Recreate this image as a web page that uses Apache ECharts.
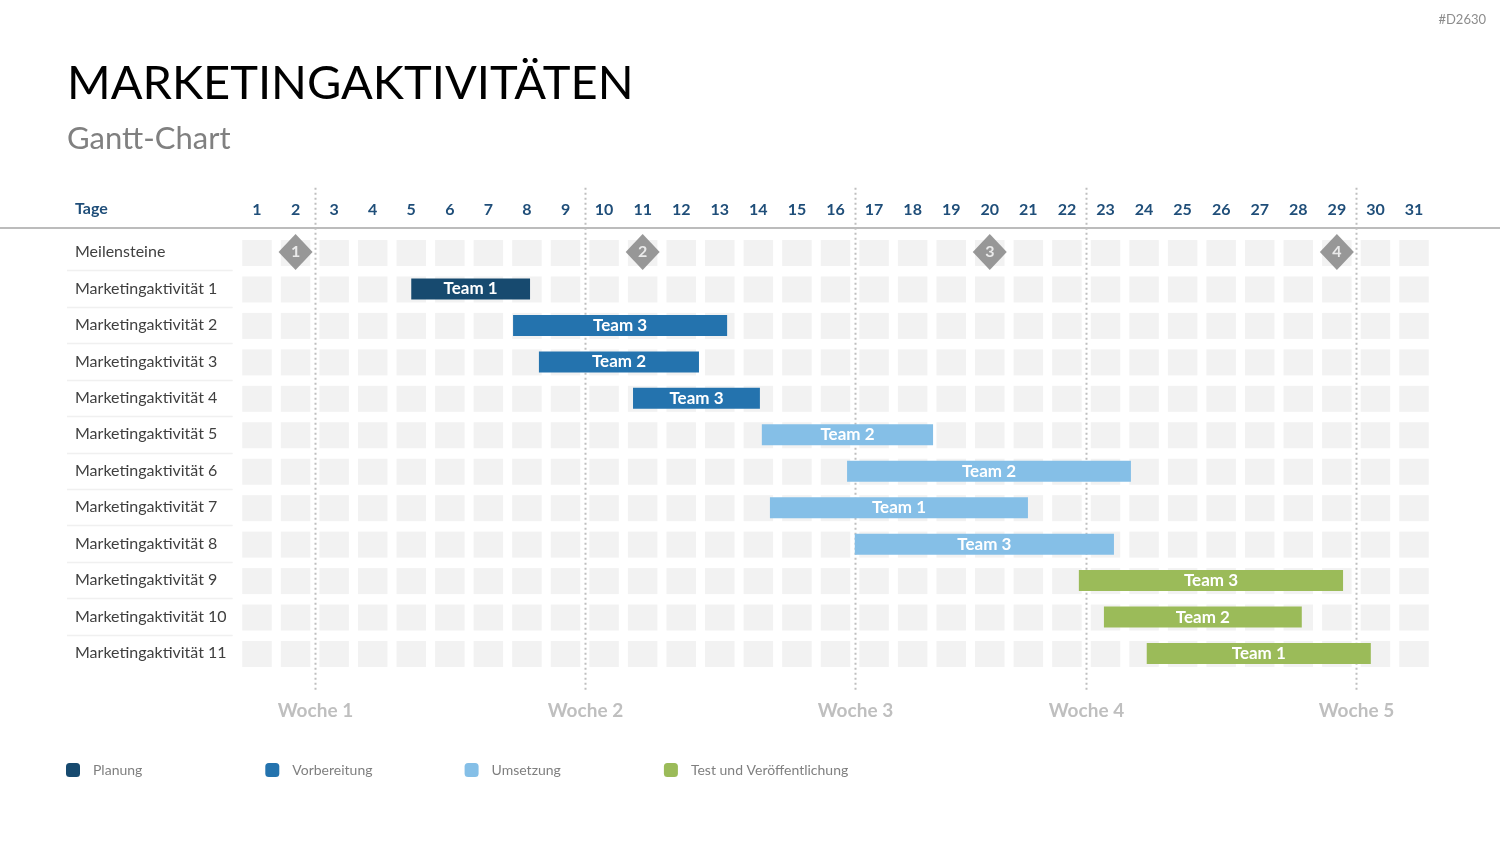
<!DOCTYPE html>
<html>
<head>
<meta charset="utf-8">
<title>Marketingaktivitäten</title>
<script src="https://cdn.jsdelivr.net/npm/echarts@6/dist/echarts.min.js"></script>
<style>
  html, body { margin: 0; padding: 0; background: #fff; }
  #main { width: 1500px; height: 844px; }
</style>
</head>
<body>
<div id="main"></div>
<script>
// Tage und Zeilen
var days = [];
for (var d = 1; d <= 31; d++) days.push(d);
var rowLabels = ['Meilensteine', 'Marketingaktivität 1', 'Marketingaktivität 2', 'Marketingaktivität 3',
  'Marketingaktivität 4', 'Marketingaktivität 5', 'Marketingaktivität 6', 'Marketingaktivität 7',
  'Marketingaktivität 8', 'Marketingaktivität 9', 'Marketingaktivität 10', 'Marketingaktivität 11'];

// Balken (Start/Ende in Tagen, Zeile 1..11)
var barRow   = [1, 2, 3, 4, 5, 6, 7, 8, 9, 10, 11];
var barStart = [5.0, 7.64, 8.31, 10.75, 14.09, 16.3, 14.3, 16.5, 22.31, 22.96, 24.07];
var barEnd   = [8.08, 13.19, 12.46, 14.04, 18.53, 23.66, 20.99, 23.22, 29.16, 28.09, 29.88];
var barTeam  = ['Team 1', 'Team 3', 'Team 2', 'Team 3', 'Team 2', 'Team 2', 'Team 1', 'Team 3', 'Team 3', 'Team 2', 'Team 1'];
var barPhase = [0, 1, 1, 1, 2, 2, 2, 2, 3, 3, 3];

var phases = ['Planung', 'Vorbereitung', 'Umsetzung', 'Test und Veröffentlichung'];
var phaseColors = ['#174A6F', '#2473AE', '#85BFE7', '#9BBB59'];

// Meilensteine
var milestoneDays = [2, 11, 20, 29];
var milestoneLabels = ['1', '2', '3', '4'];

// Wochengrenzen
var weekBounds = [2.5, 9.5, 16.5, 22.5, 29.5];
var weekLabels = ['Woche 1', 'Woche 2', 'Woche 3', 'Woche 4', 'Woche 5'];

var FONT = 'Lato, "Open Sans", sans-serif';

var cellData = [];
for (var r = 0; r < rowLabels.length; r++) {
  for (var i = 0; i < days.length; i++) cellData.push([days[i], r]);
}
var sepData = [];
for (var r2 = 1; r2 < rowLabels.length; r2++) sepData.push([1, r2]);

var weekData = weekBounds.map(function (w, i) { return [w, 0, weekLabels[i]]; });

var series = [];

// graue Zellen
series.push({
  type: 'custom',
  name: 'cells',
  z: 1,
  silent: true,
  data: cellData,
  renderItem: function (params, api) {
    var c = api.coord([api.value(0), api.value(1)]);
    return { type: 'rect', shape: { x: c[0] - 14.75, y: c[1] - 12, width: 29.5, height: 26 }, style: { fill: '#F2F2F2' } };
  }
});

// Trennlinien links
series.push({
  type: 'custom',
  name: 'sep',
  z: 1,
  silent: true,
  clip: false,
  data: sepData,
  renderItem: function (params, api) {
    var c = api.coord([api.value(0), api.value(1)]);
    var h = api.size([0, 1])[1];
    var y = Math.round(c[1] - h / 2) + 0.5;
    return { type: 'line', shape: { x1: 67, y1: y, x2: params.coordSys.x - 5, y2: y }, style: { stroke: '#F0F0F0', lineWidth: 1.5 } };
  }
});

// Wochenlinien
series.push({
  type: 'custom',
  name: 'weeks',
  z: 2,
  silent: true,
  clip: false,
  data: weekData,
  renderItem: function (params, api) {
    var cs = params.coordSys;
    var x = Math.round(api.coord([api.value(0), 0])[0]) + 0.5;
    return {
      type: 'group',
      children: [
        { type: 'line', shape: { x1: x, y1: cs.y - 46, x2: x, y2: cs.y + cs.height + 19 },
          style: { stroke: '#BFBFBF', lineWidth: 2, lineDash: [2, 3] } },
        { type: 'text', x: x, y: cs.y + cs.height + 40,
          style: { text: weekLabels[params.dataIndex], fill: '#BFBFBF', font: 'bold 19px ' + FONT, align: 'center', verticalAlign: 'middle' } }
      ]
    };
  }
});

// Balken je Phase
phases.forEach(function (p, pi) {
  var data = [];
  for (var k = 0; k < barRow.length; k++) {
    if (barPhase[k] === pi) data.push([barStart[k], barEnd[k], barRow[k], barTeam[k]]);
  }
  series.push({
    type: 'custom',
    name: p,
    z: 5,
    itemStyle: { color: phaseColors[pi] },
    encode: { x: [0, 1], y: 2 },
    data: data,
    renderItem: function (params, api) {
      var a = api.coord([api.value(0), api.value(2)]);
      var b = api.coord([api.value(1), api.value(2)]);
      return {
        type: 'rect',
        shape: { x: a[0], y: a[1] - 10, width: b[0] - a[0], height: 21 },
        style: { fill: phaseColors[pi] },
        textContent: { style: { text: api.value(3), fill: '#fff', font: 'bold 17px ' + FONT } },
        textConfig: { position: 'inside' }
      };
    }
  });
});

// Meilensteine
series.push({
  type: 'scatter',
  name: 'Meilensteine',
  z: 6,
  symbol: 'diamond',
  symbolSize: [34, 36],
  itemStyle: { color: '#7F7F7F' },
  data: milestoneDays.map(function (d, i) { return [d, 0, milestoneLabels[i]]; }),
  label: {
    show: true, position: 'inside', color: '#fff', fontFamily: FONT, fontWeight: 'bold', fontSize: 16,
    formatter: function (p) { return p.value[2]; }
  }
});

var legends = phases.map(function (p, i) {
  return {
    data: [p], left: 66 + i * 199.3, top: 763, padding: 0, itemWidth: 14, itemHeight: 14, icon: 'roundRect',
    selectedMode: false,
    textStyle: { color: '#7F7F7F', fontSize: 14, fontFamily: FONT, padding: [0, 0, 0, 8] }
  };
});

var myChart = echarts.init(document.getElementById('main'));

var option = {
  backgroundColor: '#fff',
  animation: false,
  textStyle: { fontFamily: FONT },
  title: [
    { text: 'MARKETINGAKTIVITÄTEN', left: 62, top: 55, textStyle: { fontSize: 47, fontWeight: 'normal', color: '#000', fontFamily: FONT } },
    { text: 'Gantt-Chart', left: 62, top: 118, textStyle: { fontSize: 31, fontWeight: 'normal', color: '#808080', fontFamily: FONT } }
  ],
  legend: legends,
  grid: { left: 237.7, right: 66.7, top: 233.8, bottom: 172.8 },
  xAxis: [
    { type: 'value', min: 0.5, max: 31.5, show: false },
    { type: 'category', position: 'top', data: days, boundaryGap: true,
      axisLine: { show: false }, axisTick: { show: false }, splitLine: { show: false },
      axisLabel: { margin: 16, color: '#1F4E79', fontWeight: 'bold', fontSize: 16, fontFamily: FONT, interval: 0 } }
  ],
  yAxis: {
    type: 'category', inverse: true, data: rowLabels,
    axisLine: { show: false }, axisTick: { show: false }, splitLine: { show: false },
    axisLabel: { align: 'left', margin: 162.7, color: '#404040', fontSize: 16, fontFamily: FONT }
  },
  graphic: [
    { type: 'line', shape: { x1: 0, y1: 228, x2: 1500, y2: 228 }, style: { stroke: '#A6A6A6', lineWidth: 1.5 } },
    { type: 'text', left: 75, top: 201, style: { text: 'Tage', fill: '#1F4E79', font: 'bold 16px ' + FONT } },
    { type: 'text', right: 14, top: 13, style: { text: '#D2630', fill: '#8C8C8C', font: '13px ' + FONT } }
  ],
  series: series
};

myChart.setOption(option);
</script>
</body>
</html>
